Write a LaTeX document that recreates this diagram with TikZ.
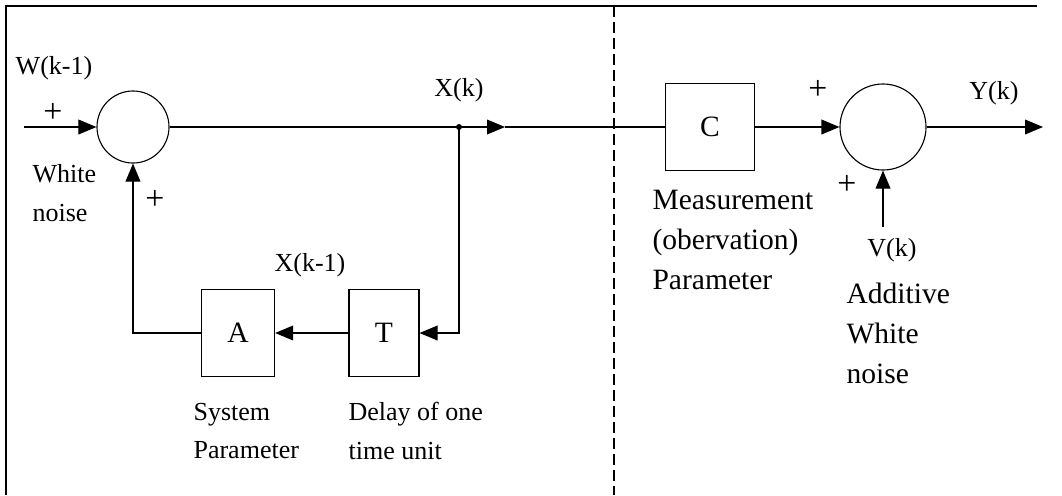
\documentclass[tikz,border=0pt]{standalone}
\usepackage{fontspec}
\setmainfont{Liberation Serif}
\usetikzlibrary{arrows.meta}

\begin{document}
\begin{tikzpicture}[x=0.025cm, y=-0.025cm,
    line width=0.8pt,
    blk/.style={draw, minimum height=2.17cm, inner sep=0pt, font=\fontsize{21}{24}\selectfont},
    sumnode/.style={draw, circle, inner sep=0pt},
    sig/.style={-{Triangle[length=0.45cm, width=0.37cm]}},
    lbl/.style={inner sep=0pt, font=\fontsize{18.5}{27.5}\selectfont},
    plus/.style={inner sep=0pt, font=\fontsize{24}{24}\selectfont},
    lblr/.style={inner sep=0pt, align=left, anchor=west, font=\fontsize{21}{28.5}\selectfont}]
  \useasboundingbox (0,0) rectangle (1062,495);
  % frame and dividing line
  \draw (6,495) -- (6,6) -- (1037,6);
  \draw[dash pattern=on 0.27cm off 0.13cm] (614,6) -- (614,495);
  % blocks
  \node[sumnode, minimum size=1.8cm] (s1) at (133,127) {};
  \node[sumnode, minimum size=2.15cm] (s2) at (883,127) {};
  \node[blk, minimum width=1.83cm] (A) at (238,333) {A};
  \node[blk, minimum width=1.75cm] (T) at (384,333) {T};
  \node[blk, minimum width=2.23cm] (C) at (710,127) {C};
  \coordinate (win) at (24,127);
  \coordinate (br) at (459,127);
  \coordinate (mid) at (505,127);
  \coordinate (yout) at (1043,127);
  \coordinate (vin) at (883,227);
  % signals
  \draw[sig] (win) -- (s1);
  \draw (s1) -- (br);
  \draw[sig] (br) -- (mid);
  \draw (mid) -- (C);
  \fill (br) circle (3);
  \draw[sig] (br) |- (T);
  \draw[sig] (T) -- (A);
  \draw[sig] (A) -| (s1);
  \draw[sig] (C) -- (s2);
  \draw[sig] (s2) -- (yout);
  \draw[sig] (vin) -- (s2);
  % labels
  \node[lbl] (w) at (54,68) {W(k-1)};
  \node[plus] (p1) at (53,113) {+};
  \node[lbl, align=left, anchor=west] (wn) at (32,193) {White\\noise};
  \node[plus] (p2) at (155,200) {+};
  \node[lbl] (xk) at (459,90) {X(k)};
  \node[lbl] (xk1) at (310,265) {X(k-1)};
  \node[lbl, align=left, anchor=west] (sp) at (193,431) {System\\Parameter};
  \node[lbl, align=left, anchor=west] (dl) at (348,431) {Delay of one\\time unit};
  \node[plus] (p3) at (818,90) {+};
  \node[plus] (p4) at (847,185) {+};
  \node[lbl] (yk) at (994,93) {Y(k)};
  \node[lbl] (vk) at (892,250) {V(k)};
  \node[lblr] (mp) at (652,240) {Measurement\\(obervation)\\Parameter};
  \node[lblr] (aw) at (846,333) {Additive\\White\\noise};
\end{tikzpicture}
\end{document}
